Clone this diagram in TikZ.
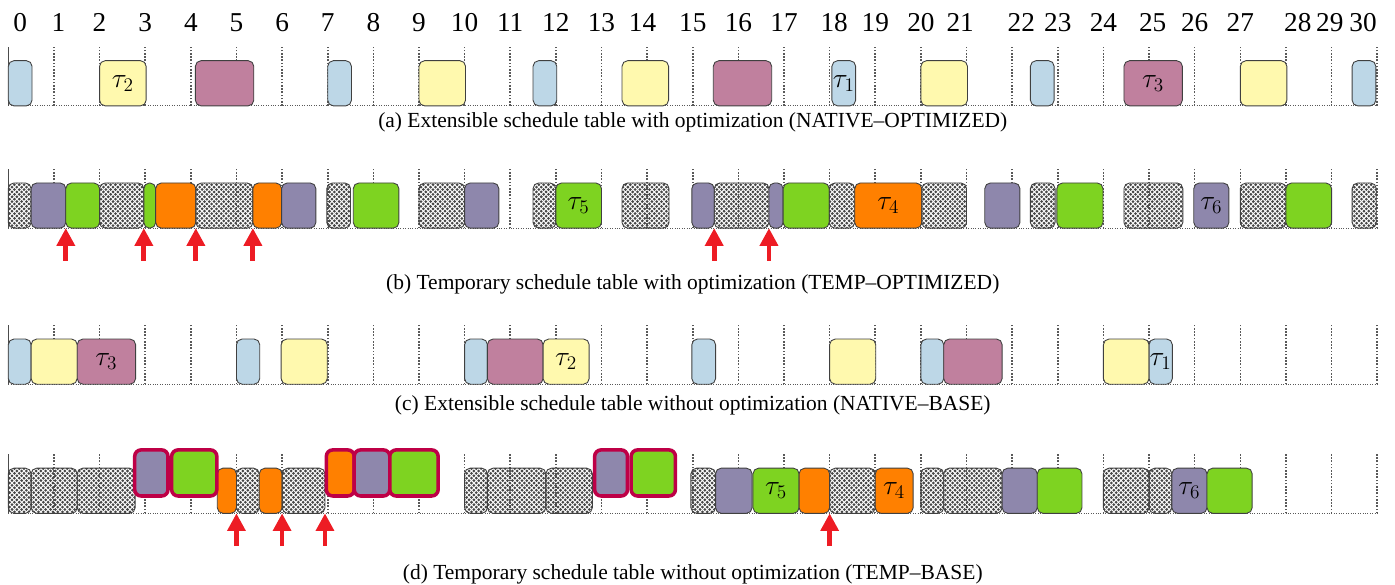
\documentclass[tikz,border=0pt]{standalone}
\usepackage[no-math]{fontspec}
\setmainfont{Liberation Serif}
\usetikzlibrary{arrows.meta,patterns}

\definecolor{tskblue}{RGB}{189,215,231}
\definecolor{tskyellow}{RGB}{255,249,174}
\definecolor{tskmauve}{RGB}{192,128,158}
\definecolor{tskpurple}{RGB}{142,135,172}
\definecolor{tskgreen}{RGB}{126,211,33}
\definecolor{tskorange}{RGB}{255,128,0}
\definecolor{tskborder}{RGB}{190,0,70}
\definecolor{tskred}{RGB}{237,28,36}

% dense dot pattern for the idle slots
\pgfdeclarepatternformonly{chkdots}{\pgfqpoint{-1pt}{-1pt}}{\pgfqpoint{4pt}{4pt}}{\pgfqpoint{3pt}{3pt}}{%
  \pgfpathcircle{\pgfqpoint{0pt}{0pt}}{.95pt}%
  \pgfpathcircle{\pgfqpoint{1.5pt}{1.5pt}}{.95pt}%
  \pgfusepath{fill}}

\tikzset{
  job/.style={draw=black!75, line width=0.55pt, rounded corners=3.5pt, anchor=south west,
    inner sep=0pt, outer sep=0pt, minimum height=0.99cm, font=\fontsize{17.28}{20}\selectfont},
  tblue/.style={fill=tskblue},
  tyellow/.style={fill=tskyellow},
  tmauve/.style={fill=tskmauve},
  tpurple/.style={fill=tskpurple},
  tgreen/.style={fill=tskgreen},
  torange/.style={fill=tskorange},
  hatch/.style={pattern=chkdots, pattern color=black!72},
  raised/.style={draw=tskborder, line width=2.2pt, rounded corners=4pt, minimum height=1.01cm},
  gridln/.style={densely dotted, line width=1pt, black!65},
  baseln/.style={densely dotted, line width=0.5pt, black!65},
  redarrow/.style={draw=tskred, line width=3pt, -{Triangle[width=11pt,length=11pt]}},
  ticklbl/.style={anchor=base, font=\fontsize{17}{20}\selectfont},
  subcap/.style={anchor=base, font=\fontsize{13.4}{16}\selectfont}
}

\begin{document}
\begin{tikzpicture}
\useasboundingbox (-0.182,-12.80) rectangle (30.39,0);

% time axis
\foreach \t/\x in {0/0.26,1/1.1,2/2,3/3,4/4,5/5,6/6,7/7,8/8,9/9,10/10,11/11,12/12,13/13,14/13.9,
  15/15,16/16,17/17,18/18.1,19/19,20/20,21/20.86,22/22.2,23/23,24/24,25/25.08,26/26,27/27,
  28/28.26,29/28.96,30/29.69}
  \node[ticklbl] (t\t) at (\x,-0.70) {\t};

% grids
\foreach \y in {-2.32,-5.0,-8.42,-11.25} {
  \draw[baseln] (0,\y) -- (30,\y);
  \draw[line width=0.5pt, black!70] (0,\y) -- (0,\y+1.29);
  \foreach \i in {1,...,30}
    \draw[gridln] (\i,\y) -- (\i,\y+1.29);
}

% (a) NATIVE-OPTIMIZED
\foreach \s/\e/\c/\l [count=\k] in {0/0.52/tblue/{}, 2/3.02/tyellow/{$\tau_2$}, 4.1/5.38/tmauve/{},
  7/7.52/tblue/{}, 9/10.02/tyellow/{}, 11.5/12.02/tblue/{}, 13.45/14.47/tyellow/{},
  15.45/16.73/tmauve/{}, 18.05/18.57/tblue/{$\tau_1$}, 20/21.02/tyellow/{}, 22.4/22.92/tblue/{},
  24.45/25.73/tmauve/{$\tau_3$}, 27/28.02/tyellow/{}, 29.45/29.97/tblue/{}}
  \node[job,\c,minimum width={(\e-\s)*1cm}] (a\k) at (\s,-2.32) {\l};
\node[subcap] (capa) at (15,-2.80) {(a) Extensible schedule table with optimization (NATIVE--OPTIMIZED)};

% (b) TEMP-OPTIMIZED
\foreach \s/\e/\c/\l [count=\k] in {0/0.5/hatch/{}, 0.5/1.26/tpurple/{}, 1.26/2/tgreen/{},
  2/2.97/hatch/{}, 2.97/3.23/tgreen/{}, 3.23/4.11/torange/{}, 4.11/5.36/hatch/{},
  5.36/5.99/torange/{}, 5.99/6.74/tpurple/{}, 6.98/7.5/hatch/{}, 7.56/8.56/tgreen/{},
  9/10/hatch/{}, 10/10.75/tpurple/{}, 11.5/12/hatch/{}, 12/13/tgreen/{$\tau_5$},
  13.45/14.48/hatch/{}, 14.98/15.47/tpurple/{}, 15.47/16.67/hatch/{}, 16.67/16.98/tpurple/{},
  16.98/17.99/tgreen/{}, 17.99/18.55/hatch/{}, 18.55/20.02/torange/{$\tau_4$},
  20.02/21/hatch/{}, 21.4/22.17/tpurple/{}, 22.4/22.94/hatch/{}, 22.98/23.99/tgreen/{},
  24.45/25.74/hatch/{}, 25.98/26.75/tpurple/{$\tau_6$}, 27/28/hatch/{}, 28/29/tgreen/{},
  29.45/29.98/hatch/{}}
  \node[job,\c,minimum width={(\e-\s)*1cm}] (b\k) at (\s,-5.0) {\l};
\foreach \n/\a in {b3/south west, b5/south west, b7/south west, b8/south west,
  b18/south west, b19/south west}
  \draw[redarrow] (\n.\a) ++(0,-0.72) -- (\n.\a);
\node[subcap] (capb) at (15,-6.34) {(b) Temporary schedule table with optimization (TEMP--OPTIMIZED)};

% (c) NATIVE-BASE
\foreach \s/\e/\c/\l [count=\k] in {0/0.5/tblue/{}, 0.5/1.51/tyellow/{}, 1.51/2.79/tmauve/{$\tau_3$},
  5/5.51/tblue/{}, 5.98/6.99/tyellow/{}, 10/10.5/tblue/{}, 10.5/11.72/tmauve/{},
  11.72/12.73/tyellow/{$\tau_2$}, 14.98/15.5/tblue/{}, 18/19.01/tyellow/{}, 20/20.5/tblue/{},
  20.5/21.78/tmauve/{}, 24/25/tyellow/{}, 25/25.51/tblue/{$\tau_1$}}
  \node[job,\c,minimum width={(\e-\s)*1cm}] (c\k) at (\s,-8.42) {\l};
\node[subcap] (capc) at (15,-8.99) {(c) Extensible schedule table without optimization (NATIVE--BASE)};

% (d) TEMP-BASE
\foreach \s/\e/\c/\l [count=\k] in {0/0.5/hatch/{}, 0.5/1.51/hatch/{}, 1.51/2.78/hatch/{},
  4.58/5/torange/{}, 5/5.5/hatch/{}, 5.5/6/torange/{}, 6/6.94/hatch/{}, 10/10.5/hatch/{},
  10.5/11.78/hatch/{}, 11.78/12.8/hatch/{}, 14.96/15.5/hatch/{}, 15.5/16.3/tpurple/{},
  16.32/17.33/tgreen/{$\tau_5$}, 17.33/18/torange/{}, 18/19/hatch/{}, 19/19.83/torange/{$\tau_4$},
  20/20.5/hatch/{}, 20.5/21.78/hatch/{}, 21.78/22.55/tpurple/{}, 22.55/23.53/tgreen/{},
  24/25/hatch/{}, 25/25.5/hatch/{}, 25.5/26.27/tpurple/{$\tau_6$}, 26.27/27.26/tgreen/{}}
  \node[job,\c,minimum width={(\e-\s)*1cm}] (d\k) at (\s,-11.25) {\l};
\foreach \s/\e/\c [count=\k] in {2.77/3.5/tpurple, 3.58/4.57/tgreen, 6.97/7.58/torange,
  7.58/8.36/tpurple, 8.36/9.42/tgreen, 12.85/13.57/tpurple, 13.65/14.62/tgreen}
  \node[job,raised,\c,minimum width={(\e-\s)*1cm}] (r\k) at (\s,-10.87) {};
\foreach \n/\a in {d5/south west, d7/south west, d7/south east, d15/south west}
  \draw[redarrow] (\n.\a) ++(0,-0.72) -- (\n.\a);
\node[subcap] (capd) at (15,-12.70) {(d) Temporary schedule table without optimization (TEMP--BASE)};
\end{tikzpicture}
\end{document}
